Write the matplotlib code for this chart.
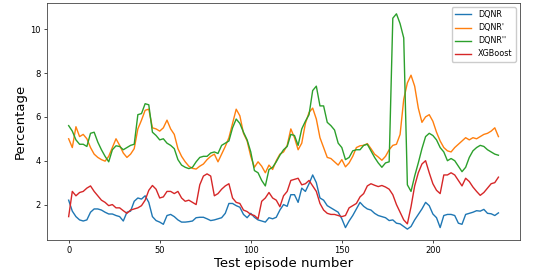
import numpy as np
import matplotlib
matplotlib.use('Agg')
import matplotlib.pyplot as plt

# test episodes (read every second episode off the chart)
episodes = np.arange(0, 237, 2)

dqnr = [2.2, 1.7, 1.45, 1.3, 1.25, 1.3, 1.65, 1.8, 1.8, 1.75,
        1.65, 1.57, 1.57, 1.5, 1.45, 1.25, 1.65, 1.7, 2.15, 2.3,
        2.25, 2.4, 2.1, 1.45, 1.27, 1.2, 1.1, 1.5, 1.55, 1.45,
        1.3, 1.2, 1.2, 1.22, 1.25, 1.4, 1.42, 1.42, 1.35, 1.27,
        1.3, 1.35, 1.4, 1.6, 2.05, 2.05, 1.95, 1.88, 1.55, 1.4,
        1.6, 1.42, 1.3, 1.25, 1.2, 1.4, 1.35, 1.42, 1.75, 2.0,
        1.92, 2.45, 2.45, 2.1, 2.75, 2.6, 2.95, 3.35, 3.0, 2.3,
        2.2, 1.95, 1.85, 1.75, 1.65, 1.35, 0.95, 1.25, 1.5, 1.8,
        2.1, 1.92, 1.8, 1.75, 1.6, 1.5, 1.45, 1.4, 1.27, 1.3,
        1.15, 1.12, 1.0, 0.88, 1.0, 1.3, 1.55, 1.8, 2.1, 1.95,
        1.57, 1.4, 0.95, 1.5, 1.55, 1.55, 1.5, 1.15, 1.1, 1.55,
        1.6, 1.65, 1.72, 1.7, 1.78, 1.6, 1.58, 1.5, 1.62]

dqnr_1 = [5.0, 4.6, 5.55, 5.1, 5.2, 5.0, 4.6, 4.3, 4.15, 4.05,
          3.98, 4.2, 4.6, 5.0, 4.7, 4.35, 4.15, 4.3, 4.55, 5.45,
          5.85, 6.3, 6.35, 5.5, 5.45, 5.35, 5.5, 5.85, 5.45, 5.2,
          4.55, 4.2, 3.95, 3.75, 3.65, 3.62, 3.75, 3.85, 4.05, 4.2,
          4.3, 3.95, 4.3, 4.65, 5.05, 5.7, 6.35, 6.05, 5.25, 4.9,
          4.2, 3.7, 3.95, 3.75, 3.45, 3.8, 3.6, 4.0, 4.3, 4.4,
          4.7, 5.45, 5.05, 4.5, 4.8, 5.7, 6.2, 6.4, 5.9, 5.05,
          4.6, 4.15, 4.1, 3.95, 3.8, 4.05, 3.72, 3.9, 4.2, 4.6,
          4.68, 4.7, 4.78, 4.55, 4.3, 4.17, 4.02, 4.2, 4.5, 4.7,
          4.75, 5.2, 6.8, 7.55, 7.9, 7.4, 6.4, 5.75, 6.0, 6.1,
          5.8, 5.3, 4.9, 4.6, 4.45, 4.4, 4.6, 4.75, 4.9, 5.05,
          4.95, 5.05, 5.0, 5.1, 5.2, 5.25, 5.35, 5.5, 5.1]

dqnr_2 = [5.6, 5.35, 4.95, 4.75, 4.75, 4.65, 5.25, 5.3, 4.85, 4.5,
          4.2, 3.95, 4.5, 4.68, 4.65, 4.5, 4.6, 4.7, 4.75, 6.1,
          6.15, 6.6, 6.55, 5.3, 5.15, 4.95, 5.0, 4.8, 4.7, 4.55,
          4.05, 3.8, 3.7, 3.64, 3.7, 3.95, 4.15, 4.2, 4.2, 4.35,
          4.4, 4.33, 4.7, 4.8, 4.9, 5.5, 5.9, 5.7, 5.3, 4.95,
          4.4, 3.55, 3.45, 3.1, 2.85, 3.6, 3.7, 3.95, 4.25, 4.5,
          4.65, 5.2, 5.15, 4.7, 5.45, 5.8, 6.1, 7.2, 7.4, 6.5,
          6.5, 5.75, 5.6, 5.4, 4.8, 4.6, 4.05, 4.15, 4.45, 4.5,
          4.5, 4.7, 4.75, 4.45, 4.15, 3.9, 3.7, 3.9, 3.95, 10.5,
          10.7, 10.25, 9.6, 2.9, 2.6, 3.3, 3.9, 4.55, 5.1, 5.25,
          5.15, 4.95, 4.6, 4.4, 4.0, 4.1, 4.0, 3.75, 3.5, 3.7,
          4.15, 4.45, 4.6, 4.7, 4.65, 4.5, 4.4, 4.3, 4.25]

xgboost = [1.45, 2.6, 2.4, 2.55, 2.6, 2.75, 2.85, 2.6, 2.4, 2.2,
           2.1, 1.95, 2.0, 1.85, 1.85, 1.72, 1.6, 1.75, 1.8, 1.85,
           1.95, 2.2, 2.65, 2.87, 2.7, 2.3, 2.35, 2.6, 2.6, 2.5,
           2.6, 2.3, 2.15, 2.2, 2.1, 2.0, 2.9, 3.3, 3.4, 3.3,
           2.4, 2.5, 2.7, 2.85, 2.95, 2.3, 2.1, 2.05, 1.75, 1.68,
           1.55, 1.5, 1.35, 2.15, 2.3, 2.55, 2.3, 2.2, 1.9, 2.4,
           2.6, 3.1, 3.15, 3.2, 2.9, 2.95, 3.1, 2.85, 2.6, 2.05,
           1.75, 1.6, 1.55, 1.55, 1.5, 1.45, 1.5, 1.85, 1.95, 2.05,
           2.35, 2.5, 2.85, 2.95, 2.88, 2.82, 2.87, 2.8, 2.7, 2.45,
           2.0, 1.65, 1.3, 1.12, 1.9, 2.85, 3.45, 3.85, 4.0, 3.45,
           2.95, 2.65, 2.5, 3.35, 3.35, 3.45, 3.35, 3.1, 2.85, 3.2,
           3.05, 2.8, 2.6, 2.42, 2.55, 2.75, 2.95, 3.0, 3.25]

labels = ['DQNR', "DQNR'", "DQNR''", 'XGBoost']

fig = plt.figure(figsize=(5.36, 2.77), dpi=100)
ax = fig.add_axes([0.088, 0.134, 0.882, 0.855])

for values, label in zip([dqnr, dqnr_1, dqnr_2, xgboost], labels):
    ax.plot(episodes, values, linewidth=1.0, label=label)

ax.set_xlabel('Test episode number', fontsize=9.5, labelpad=1)
ax.set_ylabel('Percentage', fontsize=9.5, labelpad=3)
ax.tick_params(labelsize=6, length=2.5, width=0.5, pad=2)
for spine in ax.spines.values():
    spine.set_linewidth(0.6)
    spine.set_color('#444444')

ax.legend(loc='upper right', fontsize=5.8, handlelength=2.0,
          handletextpad=0.9, borderaxespad=0.5, framealpha=1)

fig.savefig('out.png', dpi=100)
